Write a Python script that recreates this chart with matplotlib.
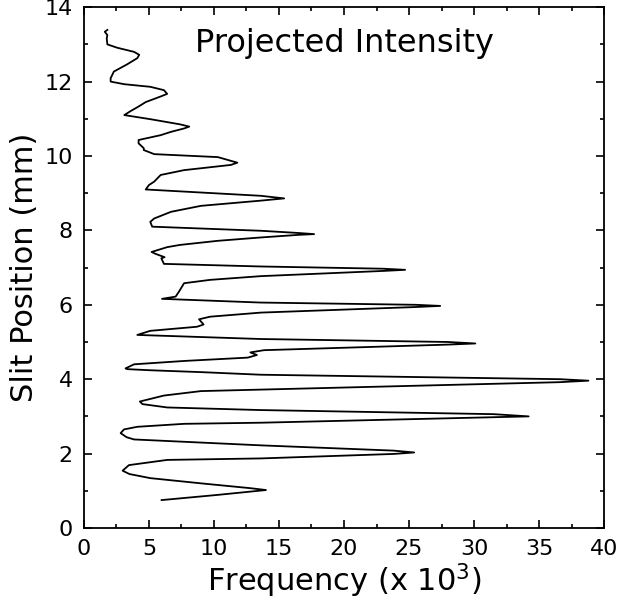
import matplotlib
matplotlib.use('Agg')
import matplotlib.pyplot as plt
from matplotlib.ticker import MultipleLocator

# slit position (mm) and projected frequency (x 10^3) bottom to top
position = [0.75, 0.89, 1.02, 1.07, 1.20, 1.34, 1.45, 1.54, 1.69, 1.83, 1.87, 1.99, 2.03, 2.08,
            2.22, 2.38, 2.44, 2.55, 2.65, 2.72, 2.80, 2.83, 2.98, 3.00, 3.06, 3.17, 3.24, 3.33,
            3.40, 3.56, 3.68, 3.72, 3.92, 3.96, 4.00, 4.12, 4.19, 4.24, 4.27, 4.29, 4.40, 4.49,
            4.58, 4.65, 4.72, 4.78, 4.93, 4.96, 5.00, 5.08, 5.19, 5.30, 5.41, 5.47, 5.61, 5.68,
            5.79, 5.94, 5.97, 6.00, 6.06, 6.16, 6.22, 6.35, 6.58, 6.67, 6.77, 6.91, 6.94, 6.97,
            7.03, 7.10, 7.25, 7.28, 7.37, 7.42, 7.55, 7.61, 7.72, 7.81, 7.88, 7.90, 7.93, 7.99,
            8.10, 8.23, 8.32, 8.50, 8.66, 8.80, 8.86, 8.93, 9.10, 9.22, 9.31, 9.49, 9.62, 9.76,
            9.82, 9.97, 10.05, 10.16, 10.21, 10.34, 10.43, 10.56, 10.65, 10.74, 10.79, 10.85,
            10.99, 11.10, 11.21, 11.33, 11.45, 11.60, 11.67, 11.77, 11.86, 11.93, 12.00, 12.09,
            12.27, 12.46, 12.63, 12.72, 12.80, 12.91, 13.00, 13.16, 13.25, 13.34, 13.39]
frequency = [5.97, 10.3, 14.0, 12.8, 9.0, 5.1, 3.5, 2.97, 3.46, 6.4, 13.6, 23.8, 25.4, 23.8,
             13.7, 3.85, 3.28, 2.82, 3.08, 4.1, 7.7, 13.6, 31.5, 34.2, 31.5, 13.6, 6.4, 4.5,
             4.3, 6.15, 9.0, 13.6, 36.6, 38.8, 36.6, 13.6, 9.0, 5.1, 3.33, 3.2, 3.85, 7.7,
             12.6, 13.3, 12.8, 13.85, 28.0, 30.1, 28.0, 13.6, 4.1, 5.1, 8.7, 9.2, 8.85, 9.7,
             13.6, 25.5, 27.4, 25.5, 13.6, 6.0, 7.05, 7.3, 7.7, 9.7, 13.6, 23.0, 24.7, 23.0,
             13.6, 6.15, 5.95, 6.2, 5.5, 5.2, 6.4, 7.4, 10.3, 13.6, 16.5, 17.7, 16.5, 13.6,
             5.25, 5.1, 5.4, 6.7, 9.0, 13.6, 15.4, 13.6, 4.75, 5.0, 5.4, 5.9, 7.7, 11.3,
             11.8, 10.3, 5.4, 4.6, 4.6, 4.2, 4.2, 5.9, 6.7, 7.7, 8.1, 7.4,
             5.1, 3.1, 3.6, 4.2, 4.75, 5.9, 6.4, 6.15, 5.1, 3.1, 2.05, 2.05,
             2.3, 3.3, 4.1, 4.25, 3.85, 2.56, 1.8, 1.75, 1.8, 1.6, 1.8]

fig = plt.figure(figsize=(6.29, 6.05), dpi=100)
ax = fig.add_axes([0.1335, 0.1273, 0.8268, 0.8608])

ax.plot(frequency, position, color='black', linewidth=1.3)

ax.set_xlim(0, 40)
ax.set_ylim(0, 14)
ax.xaxis.set_major_locator(MultipleLocator(5))
ax.xaxis.set_minor_locator(MultipleLocator(2.5))
ax.yaxis.set_major_locator(MultipleLocator(2))
ax.yaxis.set_minor_locator(MultipleLocator(1))
ax.tick_params(which='both', direction='in', top=True, right=True, width=1.2)
ax.tick_params(which='major', length=6, labelsize=16, pad=8)
ax.tick_params(which='minor', length=3)
for sp in ax.spines.values():
    sp.set_linewidth(1.3)

ax.set_xlabel(r'Frequency (x 10$^3$)', fontsize=22, labelpad=2)
ax.set_ylabel('Slit Position (mm)', fontsize=22, labelpad=4)
ax.text(0.5, 0.93, 'Projected Intensity', transform=ax.transAxes,
        ha='center', va='center', fontsize=23)

fig.savefig('out.png', dpi=100)
